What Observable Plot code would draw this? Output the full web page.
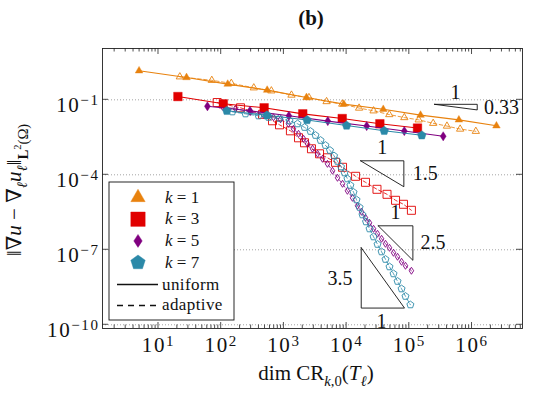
<!DOCTYPE html>
<html><head><meta charset="utf-8">
<script src="https://cdn.jsdelivr.net/npm/d3@7"></script>
<script src="https://cdn.jsdelivr.net/npm/@observablehq/plot@0.6"></script>
<style>
html,body{margin:0;padding:0;background:#fff;}
#chart{width:533px;height:395px;overflow:hidden;}
#chart svg text, #chart svg tspan{font-family:'Liberation Serif','DejaVu Serif',serif;}
</style></head><body><div id="chart"></div>
<script>
// ---------------- data ----------------
const k1UniformDofs = [4.9, 28, 127, 541, 2290, 9020, 38400, 151000, 617000, 2450000];
const k1UniformErr  = [1.45, 0.78, 0.425, 0.244, 0.124, 0.0673, 0.0417, 0.0244, 0.0158, 0.00912];
const k1AdaptiveDofs = [21.9, 70.8, 145, 331, 631, 1320, 2510, 4790, 8510, 15800, 26900, 47900, 83200, 141000, 240000, 398000, 646000, 1150000];
const k1AdaptiveErr  = [0.832, 0.603, 0.457, 0.302, 0.229, 0.155, 0.123, 0.0851, 0.0676, 0.0468, 0.0363, 0.0257, 0.0195, 0.0158, 0.0115, 0.00891, 0.00676, 0.0055];

const k3UniformDofs = [20.4, 108, 484, 2000, 8510, 33900, 135000];
const k3UniformErr  = [0.135, 0.0692, 0.0479, 0.0275, 0.0178, 0.011, 0.00741];
const k3AdaptiveDofs = [86.3, 203, 456, 658, 851, 1270, 1710, 2130, 2750, 3700, 4950, 6650, 8610, 13900, 20000, 30500, 44100, 60300, 80700, 108000];
const k3AdaptiveErr  = [0.078, 0.0479, 0.0263, 0.0145, 0.01, 0.00575, 0.00302, 0.00191, 0.0011, 6.92e-4, 4.79e-4, 3.16e-4, 2.0e-4, 8.71e-5, 5.01e-5, 2.63e-5, 1.66e-5, 9.55e-6, 6.61e-6, 3.8e-6];

const k5UniformDofs = [60.3, 288, 1200, 5010, 20900, 83200, 347000];
const k5UniformErr  = [0.055, 0.0363, 0.0229, 0.0141, 0.00891, 0.00562, 0.00347];
const k5AdaptiveDofs = [105, 169, 293, 473, 682, 883, 1180, 1420, 1710, 2060, 2380, 2860, 3440, 4130, 4950, 5960, 7160, 8610, 10300, 12400, 14900, 17300, 20000, 23200, 26900, 31100, 36100, 41700, 48300, 56000, 64900, 75200, 86900, 108000];
const k5AdaptiveErr  = [0.0525, 0.0437, 0.0331, 0.0251, 0.02, 0.0166, 0.011, 0.00692, 0.00437, 0.00275, 0.00174, 0.0011, 6.92e-4, 4.37e-4, 2.75e-4, 1.45e-4, 7.59e-5, 4.37e-5, 2.29e-5, 1.2e-5, 5.75e-6, 3.31e-6, 1.91e-6, 1.2e-6, 6.92e-7, 4.37e-7, 2.75e-7, 1.74e-7, 1.2e-7, 7.59e-8, 5.25e-8, 3.31e-8, 2.29e-8, 1.45e-8];

const k7UniformDofs = [123, 537, 2340, 10000, 39800, 158000];
const k7UniformErr  = [0.0363, 0.024, 0.0155, 0.00933, 0.00575, 0.0038];
const k7AdaptiveDofs = [151, 244, 394, 568, 851, 1230, 1650, 2130, 2650, 3190, 3840, 4600, 5430, 6300, 7160, 8150, 9270, 10300, 11500, 12900, 14400, 16100, 17900, 20400, 23200, 26900, 31100, 36100, 41700, 48300, 56000, 64900, 75200, 86900, 104000];
const k7AdaptiveErr  = [0.0331, 0.0275, 0.0229, 0.02, 0.0182, 0.0145, 0.011, 0.00794, 0.0055, 0.0038, 0.0024, 0.00151, 9.55e-4, 5.75e-4, 3.47e-4, 2.09e-4, 1.2e-4, 6.92e-5, 3.8e-5, 2.0e-5, 1.0e-5, 5.01e-6, 2.51e-6, 1.32e-6, 6.92e-7, 3.31e-7, 1.66e-7, 8.32e-8, 4.17e-8, 2.09e-8, 1.1e-8, 5.5e-9, 2.75e-9, 1.38e-9, 6.31e-10];

// slope triangles (vertices in data coordinates) and their labels
const tri033X = [2.52e5, 1.21e6, 1.21e6, 2.52e5];
const tri033Y = [0.0661, 0.0661, 0.0394, 0.0661];
const tri15X = [1.67e4, 8.18e4, 8.18e4, 1.67e4];
const tri15Y = [3.63e-4, 3.63e-4, 3.33e-5, 3.63e-4];
const tri25X = [3.19e4, 1.14e5, 1.14e5, 3.19e4];
const tri25Y = [9.12e-7, 9.12e-7, 3.8e-8, 9.12e-7];
const tri35X = [1.71e4, 1.71e4, 8.38e4, 1.71e4];
const tri35Y = [1.21e-7, 4.66e-10, 4.66e-10, 1.21e-7];
const slopeLabelText = ["1", "0.33", "1", "1.5", "1", "2.5", "3.5", "1"];
const slopeLabelX = [5.46e5, 2.95e6, 3.7e4, 1.79e5, 6.03e4, 2.39e5, 7850, 3.61e4];
const slopeLabelY = [0.196, 0.0492, 1.24e-3, 1.07e-4, 3.02e-6, 1.96e-7, 6.73e-9, 1.32e-10];

const xTickValues = [1e1, 1e2, 1e3, 1e4, 1e5, 1e6];
const yTickValues = [1e-1, 1e-4, 1e-7, 1e-10];
const kValues = [1, 3, 5, 7];
const kColors = ["#E8820E", "#E10000", "#800080", "#2B89A8"];

// ---------------- layout ----------------
const W = 533, H = 395, mL = 102, mR = 11, mT = 48, mB = 67;
const FONT = "'Liberation Serif', 'DejaVu Serif', serif";

// custom symbols (pgfplots-like)
function makeSymbol(kind) {
  return {draw(ctx, size) {
    const r = Math.sqrt(size / Math.PI);
    if (kind === "triangle") {
      ctx.moveTo(0, -r); ctx.lineTo(r * 0.866, r * 0.5); ctx.lineTo(-r * 0.866, r * 0.5); ctx.closePath();
    } else if (kind === "square") {
      ctx.moveTo(-r, -r); ctx.lineTo(r, -r); ctx.lineTo(r, r); ctx.lineTo(-r, r); ctx.closePath();
    } else if (kind === "diamond") {
      ctx.moveTo(0, -r); ctx.lineTo(r * 0.65, 0); ctx.lineTo(0, r); ctx.lineTo(-r * 0.65, 0); ctx.closePath();
    } else {
      for (let i = 0; i < 5; i++) {
        const a = -Math.PI / 2 + i * 2 * Math.PI / 5;
        const px = r * Math.cos(a), py = r * Math.sin(a);
        if (i === 0) ctx.moveTo(px, py); else ctx.lineTo(px, py);
      }
      ctx.closePath();
    }
  }};
}
const kSymbols = [makeSymbol("triangle"), makeSymbol("square"), makeSymbol("diamond"), makeSymbol("pentagon")];
const filledR = [4.4, 4.3, 4.6, 4.6];
const openR = [4.2, 4.0, 3.5, 3.7];

const series = [
  {k: 1, method: "uniform", dofs: k1UniformDofs, err: k1UniformErr},
  {k: 1, method: "adaptive", dofs: k1AdaptiveDofs, err: k1AdaptiveErr},
  {k: 3, method: "uniform", dofs: k3UniformDofs, err: k3UniformErr},
  {k: 3, method: "adaptive", dofs: k3AdaptiveDofs, err: k3AdaptiveErr},
  {k: 5, method: "uniform", dofs: k5UniformDofs, err: k5UniformErr},
  {k: 5, method: "adaptive", dofs: k5AdaptiveDofs, err: k5AdaptiveErr},
  {k: 7, method: "uniform", dofs: k7UniformDofs, err: k7UniformErr},
  {k: 7, method: "adaptive", dofs: k7AdaptiveDofs, err: k7AdaptiveErr}
];
const rows = series.flatMap(s => s.dofs.map((d, i) => ({k: s.k, method: s.method, dof: d, err: s.err[i]})));

const marks = [
  Plot.gridY(yTickValues, {stroke: "#9a9a9a", strokeOpacity: 1, strokeWidth: 0.9, strokeDasharray: "1,2"})
];
const order = [...series.filter(s => s.method === "adaptive"), ...series.filter(s => s.method === "uniform")];
for (const s of order) {
  const ki = kValues.indexOf(s.k);
  const c = kColors[ki];
  const adaptive = s.method === "adaptive";
  const data = rows.filter(r => r.k === s.k && r.method === s.method);
  marks.push(Plot.line(data, {x: "dof", y: "err", stroke: c, strokeWidth: adaptive ? 0.8 : 1.1,
    strokeDasharray: adaptive ? "3.5,2.5" : null}));
  marks.push(Plot.dot(data, {x: "dof", y: "err", symbol: kSymbols[ki], r: adaptive ? openR[ki] : filledR[ki],
    fill: adaptive ? "none" : c, stroke: c, strokeWidth: adaptive ? 0.9 : 0.4}));
}
// slope triangles
for (const [tx, ty] of [[tri033X, tri033Y], [tri15X, tri15Y], [tri25X, tri25Y], [tri35X, tri35Y]]) {
  marks.push(Plot.line(tx.map((x, i) => ({x, y: ty[i]})), {x: "x", y: "y", stroke: "#111", strokeWidth: 0.9}));
}
marks.push(Plot.text(slopeLabelText.map((t, i) => ({t, x: slopeLabelX[i], y: slopeLabelY[i]})),
  {x: "x", y: "y", text: "t", fontSize: 20, fill: "#111", textAnchor: "middle"}));
marks.push(Plot.frame({stroke: "#222", strokeWidth: 0.9}));
marks.push(Plot.axisX(xTickValues, {tickSize: 0, tickPadding: 9, fontSize: 21, label: null,
  tickFormat: d => "10^" + Math.round(Math.log10(d))}));
marks.push(Plot.axisY(yTickValues, {tickSize: 0, tickPadding: 3, fontSize: 21, label: null, dy: 5,
  tickFormat: d => "10^" + Math.round(Math.log10(d))}));

const plot = Plot.plot({
  width: W, height: H, marginLeft: mL, marginRight: mR, marginTop: mT, marginBottom: mB,
  x: {type: "log", domain: [1.28, 6.38e6]},
  y: {type: "log", domain: [7.1e-11, 11.3]},
  style: {background: "#fff", fontFamily: FONT, fontSize: "20px", color: "#111", overflow: "visible"},
  marks
});
document.getElementById("chart").appendChild(plot);

// ---------------- post-processing ----------------
const svg = d3.select(plot);
// superscript exponents in tick labels
svg.selectAll('g[aria-label="x-axis tick label"] text, g[aria-label="y-axis tick label"] text').each(function () {
  const t = d3.select(this);
  const [base, exp] = t.text().split("^");
  if (exp === undefined) return;
  t.text(null).attr("letter-spacing", "1.6px");
  t.append("tspan").text(base);
  t.append("tspan").attr("dy", "-0.45em").attr("font-size", "15px").text(exp.replace("-", "\u2212"));
});

// inward tick marks on all four sides
const xS = plot.scale("x"), yS = plot.scale("y");
const frameTop = mT, frameBottom = H - mB, frameLeft = mL, frameRight = W - mR;
const tg = svg.append("g").attr("stroke", "#222").attr("stroke-width", 0.8);
for (let e = 0; e <= 7; e++) for (let m = 1; m <= 9; m++) {
  const px = xS.apply(m * Math.pow(10, e));
  if (px < frameLeft + 0.5 || px > frameRight - 0.5) continue;
  const len = m === 1 ? 6 : 3.5;
  tg.append("line").attr("x1", px).attr("x2", px).attr("y1", frameBottom).attr("y2", frameBottom - len);
  tg.append("line").attr("x1", px).attr("x2", px).attr("y1", frameTop).attr("y2", frameTop + len);
}
for (const v of yTickValues) {
  const py = yS.apply(v);
  tg.append("line").attr("x1", frameLeft).attr("x2", frameLeft + 6).attr("y1", py).attr("y2", py);
  tg.append("line").attr("x1", frameRight).attr("x2", frameRight - 6).attr("y1", py).attr("y2", py);
}

// rich text helper
function rich(sel, base, parts) {
  let off = 0;
  for (const p of parts) {
    const o = p.off ?? 0, fs = p.fs ?? 1;
    const ts = sel.append("tspan").text(p.t);
    if (fs !== 1) ts.attr("font-size", (fs * base) + "px");
    if (o !== off) ts.attr("dy", (o - off) * base);
    off = o;
    if (p.i) ts.attr("font-style", "italic");
    if (p.b) ts.attr("font-weight", "bold");
  }
}

// title
svg.append("text").attr("x", 311).attr("y", 25).attr("text-anchor", "middle")
  .attr("font-weight", "bold").attr("font-size", 21).text("(b)");

// x label
const xl = svg.append("text").attr("x", 316).attr("y", 380).attr("text-anchor", "middle").attr("font-size", 21);
rich(xl, 21, [{t: "dim CR"}, {t: "k", i: true, off: 0.3, fs: 0.7}, {t: ",0", off: 0.3, fs: 0.7},
  {t: "(", off: 0}, {t: "T", i: true}, {t: "\u2113", i: true, off: 0.3, fs: 0.7}, {t: ")", off: 0}]);

// y label
const yl = svg.append("text").attr("transform", "translate(21,190) rotate(-90)").attr("text-anchor", "middle").attr("font-size", 21);
rich(yl, 21, [{t: "\u2016\u2207"}, {t: "u", i: true}, {t: " \u2212 \u2207"}, {t: "\u2113", i: true, off: 0.3, fs: 0.7},
  {t: "u", i: true, off: 0}, {t: "\u2113", i: true, off: 0.3, fs: 0.7}, {t: "\u2016", off: 0},
  {t: "L", b: true, off: 0.35, fs: 0.7}, {t: "2", off: 0.0, fs: 0.5}, {t: "(\u03A9)", off: 0.35, fs: 0.7}]);

// legend
const lg = svg.append("g").attr("text-anchor", "start");
lg.append("rect").attr("x", 109).attr("y", 182).attr("width", 125).attr("height", 138)
  .attr("fill", "#fff").attr("stroke", "#111").attr("stroke-width", 0.9);
const legendR = [8.3, 7.2, 6.5, 7.6];
kValues.forEach((k, i) => {
  const cy = 197.5 + i * 21.7;
  lg.append("path").attr("transform", `translate(138,${cy})`)
    .attr("d", d3.symbol(kSymbols[i], Math.PI * legendR[i] * legendR[i])())
    .attr("fill", kColors[i]).attr("stroke", kColors[i]).attr("stroke-width", 0.4);
  const t = lg.append("text").attr("x", 165).attr("y", cy + 5).attr("font-size", 17).attr("text-anchor", "start");
  rich(t, 17, [{t: "k", i: true}, {t: " = " + k}]);
});
lg.append("line").attr("x1", 117).attr("x2", 158).attr("y1", 284.5).attr("y2", 284.5).attr("stroke", "#111").attr("stroke-width", 1.6);
lg.append("text").attr("x", 162).attr("y", 289.5).attr("font-size", 17)
  .attr("text-anchor", "start").attr("letter-spacing", "0.4px").text("uniform");
lg.append("line").attr("x1", 117).attr("x2", 158).attr("y1", 305.5).attr("y2", 305.5).attr("stroke", "#111").attr("stroke-width", 1.6)
  .attr("stroke-dasharray", "6,5");
lg.append("text").attr("x", 162).attr("y", 310).attr("font-size", 17)
  .attr("text-anchor", "start").attr("letter-spacing", "0.4px").text("adaptive");
</script></body></html>
